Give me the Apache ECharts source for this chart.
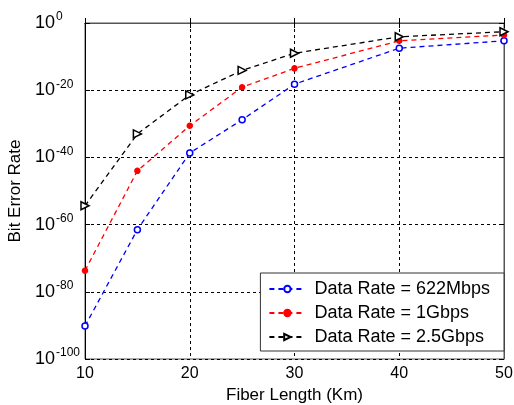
<!DOCTYPE html>
<html><head><meta charset="utf-8">
<script src="https://cdn.jsdelivr.net/npm/echarts@6/dist/echarts.min.js"></script>
<style>html,body{margin:0;padding:0;background:#fff}#c{width:514px;height:405px}</style>
</head><body><div id="c"></div>
<script>
// Bit error rate given as log10(BER)
const fiberLength = [10, 15, 20, 25, 30, 40, 50];
const log10Ber622M = [-90.2, -61.5, -38.7, -28.8, -18.2, -7.5, -5.3];
const log10Ber1G = [-73.7, -44, -30.6, -19.1, -13.5, -5.3, -3.6];
const log10Ber25G = [-54.4, -33, -21.4, -14.1, -9, -4.1, -2.6];
const seriesNames = ['Data Rate = 622Mbps', 'Data Rate = 1Gbps', 'Data Rate = 2.5Gbps'];
const xTicks = [10, 20, 30, 40, 50];
const yTickExponents = [-100, -80, -60, -40, -20, 0];

const toPairs = e => fiberLength.map((x, i) => [x, e[i]]);
const font = 'Liberation Sans, Arial, sans-serif';
const chart = echarts.init(document.getElementById('c'));
const mk = (name, data, color, symbol, size, fillWhite) => ({
  name, type: 'line', data: toPairs(data), symbol, symbolSize: size,
  lineStyle: { color, type: [5, 4], width: 1.3 },
  itemStyle: { color: fillWhite ? '#fff' : color, borderColor: color, borderWidth: 1.5 },
  emphasis: { disabled: true }, animation: false
});
const tickStyle = { inside: true, length: 5, lineStyle: { color: '#000' } };
const grid = { type: [3, 3], color: '#000', width: 1 };
chart.setOption({
  animation: false,
  grid: { left: 85, right: 10, top: 23, bottom: 46, show: true, borderColor: '#555', borderWidth: 1,
    outerBoundsMode: 'none', containLabel: false },
  xAxis: [{
    type: 'value', min: 10, max: 50, interval: 10,
    name: 'Fiber Length (Km)', nameLocation: 'middle', nameGap: 25,
    nameTextStyle: { fontFamily: font, fontSize: 17, color: '#000' },
    axisLine: { lineStyle: { color: '#000' } },
    axisTick: tickStyle,
    axisLabel: { fontFamily: font, fontSize: 16, color: '#000', margin: 7,
      formatter: v => xTicks.includes(v) ? String(v) : '' },
    splitLine: { show: true, lineStyle: grid }
  }, {
    type: 'value', position: 'top', min: 10, max: 50, interval: 10,
    axisLine: { lineStyle: { color: '#555' } }, axisTick: tickStyle,
    axisLabel: { show: false }, splitLine: { show: false }
  }],
  yAxis: [{
    type: 'value', min: -100, max: 0, interval: 20,
    name: 'Bit Error Rate', nameLocation: 'middle', nameGap: 59,
    nameTextStyle: { fontFamily: font, fontSize: 17, color: '#000' },
    axisLine: { show: true, lineStyle: { color: '#000' } },
    axisTick: Object.assign({ show: true }, tickStyle),
    axisLabel: {
      fontFamily: font, color: '#000', margin: 50, align: 'left',
      formatter: v => yTickExponents.includes(v) ? '{b|10}{s|' + v + '}' : '',
      rich: {
        b: { fontFamily: font, fontSize: 18, lineHeight: 18, color: '#000', verticalAlign: 'bottom' },
        s: { fontFamily: font, fontSize: 12, lineHeight: 12, color: '#000', verticalAlign: 'bottom', padding: [0, 0, 9, 1] }
      }
    },
    splitLine: { show: true, lineStyle: grid }
  }, {
    type: 'value', position: 'right', min: -100, max: 0, interval: 20,
    axisLine: { show: true, lineStyle: { color: '#555' } },
    axisTick: Object.assign({ show: true }, tickStyle),
    axisLabel: { show: false }, splitLine: { show: false }
  }],
  legend: {
    orient: 'vertical', right: 10, bottom: 54, left: 'auto',
    backgroundColor: '#fff', borderColor: '#333', borderWidth: 1,
    padding: [7, 14, 5, 8], itemWidth: 36, itemHeight: 8, itemGap: 6,
    textStyle: { fontFamily: font, fontSize: 18, color: '#000', padding: [0, 0, 0, 4] },
    data: seriesNames
  },
  series: [
    mk(seriesNames[0], log10Ber622M, '#0000ff', 'circle', 6, true),
    mk(seriesNames[1], log10Ber1G, '#ff0000', 'circle', 5, false),
    mk(seriesNames[2], log10Ber25G, '#000000', 'path://M0,0L10,5L0,10Z', 8, true)
  ]
});
</script></body></html>
